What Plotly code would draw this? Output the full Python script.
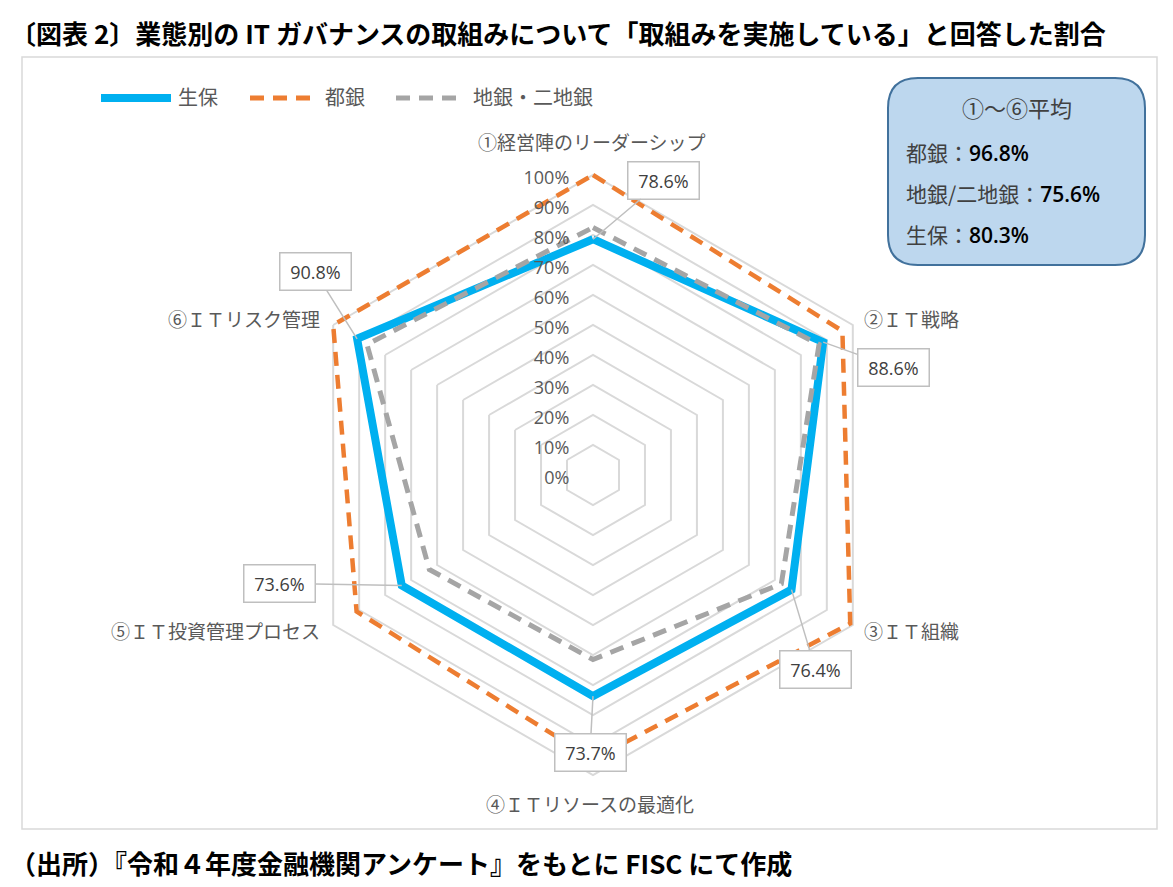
import plotly.graph_objects as go
import math

# ---------------- data ----------------
categories = ["①経営陣のリーダーシップ", "②ＩＴ戦略", "③ＩＴ組織",
              "④ＩＴリソースの最適化", "⑤ＩＴ投資管理プロセス", "⑥ＩＴリスク管理"]
seiho = [78.6, 88.6, 76.4, 73.7, 73.6, 90.8]          # 生保
toshigin = [100.0, 96.0, 99.0, 94.8, 91.0, 100.0]      # 都銀
chigin = [82.5, 87.0, 72.5, 61.5, 63.0, 87.0]          # 地銀・二地銀
series_names = ["生保", "都銀", "地銀・二地銀"]
radial_ticks = [0, 10, 20, 30, 40, 50, 60, 70, 80, 90, 100]
avg_labels = ["都銀", "地銀/二地銀", "生保"]
avg_values = [96.8, 75.6, 80.3]

# ---------------- layout constants ----------------
W, H = 1173, 887
CX, CY, R = 593, 475, 300
RMAX = 1.03                      # radial range head-room so lines on 100% are not clipped
RD = R * RMAX
FONT = "Noto Sans CJK JP"
GREY_TXT = "#595959"

def px(x):
    return x / W

def py(y):
    return 1 - y / H

fig = go.Figure()
styles = [
    dict(color="#00b0f0", width=8),
    dict(color="#ed7d31", width=4.5, dash="14px,9px"),
    dict(color="#a5a5a5", width=5, dash="14px,9px"),
]
for name, vals, st in zip(series_names, [seiho, toshigin, chigin], styles):
    fig.add_trace(go.Scatterpolar(
        r=[v / 100 for v in vals] + [vals[0] / 100],
        theta=categories + [categories[0]],
        mode="lines", name=name, line=st, showlegend=False,
        hoverinfo="skip", cliponaxis=False,
    ))

fig.update_layout(
    width=W, height=H,
    margin=dict(l=0, r=0, t=0, b=0),
    paper_bgcolor="white",
    font=dict(family=FONT, color=GREY_TXT),
    showlegend=False,
    polar=dict(
        domain=dict(x=[px(CX - RD), px(CX + RD)], y=[py(CY + RD), py(CY - RD)]),
        gridshape="linear",
        bgcolor="white",
        radialaxis=dict(
            range=[0, RMAX], angle=90, side="counterclockwise",
            tickvals=[t / 100 for t in radial_ticks],
            ticktext=[f"{t}%" for t in radial_ticks],
            tickfont=dict(size=18, color=GREY_TXT, family="Open Sans"),
            showline=False, ticks="outside", ticklen=7, tickcolor="rgba(0,0,0,0)",
            gridcolor="#d9d9d9", gridwidth=1.5,
            layer="above traces",
        ),
        angularaxis=dict(
            direction="clockwise", rotation=90,
            showgrid=False, showline=False,
            ticks="", showticklabels=False,
        ),
    ),
)

shapes = []
annotations = []

# chart frame
shapes.append(dict(type="rect", xref="paper", yref="paper",
                   x0=px(22), x1=px(1157), y0=py(829), y1=py(57),
                   line=dict(color="#d9d9d9", width=1.5), layer="below"))

# category labels
cat_pos = [(592, 142, "center"), (862, 318, "left"), (862, 630, "left"),
           (590, 803, "center"), (322, 630, "right"), (322, 318, "right")]
for name, (x, y, anc) in zip(categories, cat_pos):
    annotations.append(dict(x=px(x), y=py(y), xref="paper", yref="paper",
                            text=name, showarrow=False, xanchor=anc, yanchor="middle",
                            font=dict(size=19, color=GREY_TXT, family=FONT)))

# data labels for 生保
offsets = [(70, -59), (70, 25), (24, 80), (-3, 56), (-122, -2), (-42, -67)]
n = len(categories)
for i, v in enumerate(seiho):
    ang = math.radians(360 / n * i)
    x = CX + R * v / 100 * math.sin(ang)
    y = CY - R * v / 100 * math.cos(ang)
    ax, ay = offsets[i]
    annotations.append(dict(
        x=px(x), y=py(y), xref="paper", yref="paper",
        text=f"{v:.1f}%", showarrow=True, arrowhead=0, arrowwidth=1.5,
        arrowcolor="#bfbfbf", ax=ax, ay=ay, standoff=0,
        font=dict(size=18, color="#404040", family="Open Sans"),
        bgcolor="white", bordercolor="#bfbfbf", borderwidth=1.5,
        borderpad=6, width=58, height=24,
    ))

# custom legend
leg = [(101, 171, styles[0], 176), (250, 312, styles[1], 323), (396, 460, styles[2], 471)]
for (x0, x1, st, tx), name in zip(leg, series_names):
    shapes.append(dict(type="line", xref="paper", yref="paper",
                       x0=px(x0), x1=px(x1), y0=py(98), y1=py(98),
                       line=dict(color=st["color"], width=st["width"] if st["width"] > 6 else 5,
                                 dash=st.get("dash", "solid"))))
    annotations.append(dict(x=px(tx), y=py(97), xref="paper", yref="paper",
                            text=name, showarrow=False, xanchor="left", yanchor="middle",
                            font=dict(size=20, color=GREY_TXT, family=FONT)))

# rounded average box
bx0, by0, bx1, by1, rr = 888, 78, 1145, 265, 30
rx, ry = rr / W, rr / H
X0, X1, Y0, Y1 = px(bx0), px(bx1), py(by0), py(by1)  # Y0 top, Y1 bottom in paper
path = (f"M {X0+rx},{Y0} L {X1-rx},{Y0} Q {X1},{Y0} {X1},{Y0-ry} "
        f"L {X1},{Y1+ry} Q {X1},{Y1} {X1-rx},{Y1} "
        f"L {X0+rx},{Y1} Q {X0},{Y1} {X0},{Y1+ry} "
        f"L {X0},{Y0-ry} Q {X0},{Y0} {X0+rx},{Y0} Z")
shapes.append(dict(type="path", xref="paper", yref="paper", path=path,
                   fillcolor="#bdd7ee", line=dict(color="#41719c", width=2)))
annotations.append(dict(x=px(1017), y=py(107), xref="paper", yref="paper",
                        text="①～⑥平均", showarrow=False, xanchor="center", yanchor="middle",
                        font=dict(size=22, color="#404040", family=FONT)))
for k, (lab, val) in enumerate(zip(avg_labels, avg_values)):
    annotations.append(dict(
        x=px(904), y=py(152 + 41 * k), xref="paper", yref="paper",
        text=f"{lab}：<span style='color:black;font-family:Open Sans;font-weight:600'>{val:.1f}%</span>",
        showarrow=False, xanchor="left", yanchor="middle",
        font=dict(size=21, color="#404040", family=FONT)))

# title and footer
annotations.append(dict(x=px(8), y=py(33), xref="paper", yref="paper",
                        text="<b>〔図表 2〕業態別の IT ガバナンスの取組みについて「取組みを実施している」と回答した割合</b>",
                        showarrow=False, xanchor="left", yanchor="middle",
                        font=dict(size=26, color="black", family=FONT)))
annotations.append(dict(x=px(8), y=py(862), xref="paper", yref="paper",
                        text="<b>（出所）『令和４年度金融機関アンケート』をもとに FISC にて作成</b>",
                        showarrow=False, xanchor="left", yanchor="middle",
                        font=dict(size=26, color="black", family=FONT)))

fig.update_layout(shapes=shapes, annotations=annotations)

fig.write_html("out.html", config={"displayModeBar": False},
               post_script="document.body.style.margin='0px';document.body.style.overflow='hidden';")
